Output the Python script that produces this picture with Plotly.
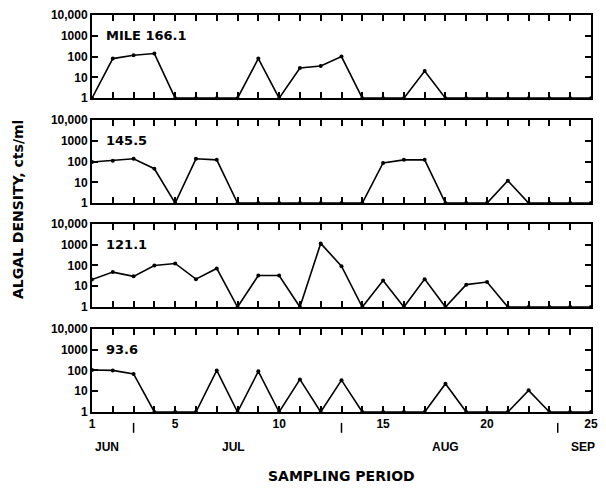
import plotly.graph_objects as go

periods = list(range(1, 26))
mile_166_1 = [1, 80, 115, 140, 1, 1, 1, 1, 80, 1, 28, 35, 100, 1, 1, 1, 20, 1, 1, 1, 1, 1, 1, 1, 1]
mile_145_5 = [95, 110, 135, 45, 1, 135, 120, 1, 1, 1, 1, 1, 1, 1, 85, 120, 120, 1, 1, 1, 12, 1, 1, 1, 1]
mile_121_1 = [21, 48, 30, 100, 125, 22, 72, 1, 33, 33, 1, 1150, 93, 1, 19, 1, 22, 1, 12, 16, 1, 1, 1, 1, 1]
mile_93_6 = [105, 100, 68, 1, 1, 1, 100, 1, 90, 1, 37, 1, 34, 1, 1, 1, 1, 23, 1, 1, 1, 11, 1, 1, 1]
panel_labels = ["MILE 166.1", "145.5", "121.1", "93.6"]
y_tickvals = [1, 10, 100, 1000, 10000]
y_ticktext = ["1", "10", "100", "1000", "10,000"]
x_ticklabels = {1: "1", 5: "5", 10: "10", 15: "15", 20: "20", 25: "25"}
months = ["JUN", "JUL", "AUG", "SEP"]
month_centers = [1.7, 7.8, 18.0, 24.6]
month_boundaries = [3, 13, 23.4]

series = [mile_166_1, mile_145_5, mile_121_1, mile_93_6]

W, H = 606, 489
ml, mr, mt, mb = 92, 8, 11, 77
plot_h = H - mt - mb
panels_px = [(11, 95), (117, 201), (222, 306), (328, 412)]

FONT = "Liberation Sans"
WIDE = "DejaVu Sans"
fig = go.Figure()
layout = dict(
    width=W, height=H,
    margin=dict(l=ml, r=mr, t=mt, b=mb),
    paper_bgcolor="white", plot_bgcolor="white",
    showlegend=False,
    font=dict(family=FONT, size=12, color="black"),
)
annotations = []
shapes = []
for i, (vals, (top, bot)) in enumerate(zip(series, panels_px)):
    n = i + 1
    xa = "x" if n == 1 else f"x{n}"
    ya = "y" if n == 1 else f"y{n}"
    fig.add_trace(go.Scatter(
        x=periods, y=vals, xaxis=xa, yaxis=ya, mode="lines+markers",
        line=dict(color="black", width=1.6),
        marker=dict(color="black", size=4),
        cliponaxis=False,
    ))
    d0 = (mt + plot_h - bot) / plot_h
    d1 = (mt + plot_h - top) / plot_h
    last = (n == 4)
    layout["xaxis" if n == 1 else f"xaxis{n}"] = dict(
        domain=[0, 1], anchor=ya, range=[1, 25],
        tickvals=periods,
        ticktext=[x_ticklabels.get(p, "") for p in periods],
        showticklabels=last,
        ticks="inside", ticklen=6, tickwidth=1.5, tickcolor="black",
        showline=True, linecolor="black", linewidth=2, mirror="ticks",
        showgrid=False, zeroline=False,
        tickfont=dict(family=FONT, size=12, weight="bold"),
    )
    layout["yaxis" if n == 1 else f"yaxis{n}"] = dict(
        domain=[d0, d1], anchor=xa, type="log", range=[0, 4],
        tickvals=y_tickvals, ticktext=y_ticktext,
        ticks="inside", ticklen=6, tickwidth=1.5, tickcolor="black",
        showline=True, linecolor="black", linewidth=2, mirror="ticks",
        showgrid=False, zeroline=False,
        tickfont=dict(family=FONT, size=12, weight="bold"),
    )
    annotations.append(dict(
        text=panel_labels[i], xref=f"{xa} domain", yref=ya,
        x=0.025, y=3, xanchor="left", yanchor="middle", showarrow=False,
        font=dict(family=WIDE, size=13, weight="bold"),
    ))

for m, c in zip(months, month_centers):
    annotations.append(dict(
        text=m, xref="x4", yref="paper", x=c, y=0, yshift=-35,
        xanchor="center", yanchor="middle", showarrow=False,
        font=dict(family=FONT, size=12, weight="bold"),
    ))
for b in month_boundaries:
    shapes.append(dict(type="line", xref="x4", yref="paper", x0=b, x1=b,
                       y0=-11 / plot_h, y1=-21 / plot_h,
                       line=dict(color="black", width=1.5)))

annotations.append(dict(
    text="SAMPLING PERIOD", xref="paper", yref="paper", x=0.5, y=0, yshift=-64,
    xanchor="center", yanchor="middle", showarrow=False,
    font=dict(family=WIDE, size=14, weight="bold"),
))
annotations.append(dict(
    text="ALGAL DENSITY, cts/ml", xref="paper", yref="paper",
    x=-(ml - 17) / (W - ml - mr), y=(mt + plot_h - 208) / plot_h,
    xanchor="center", yanchor="middle", textangle=-90, showarrow=False,
    font=dict(family=WIDE, size=14, weight="bold"),
))
layout["annotations"] = annotations
layout["shapes"] = shapes
fig.update_layout(**layout)
fig.write_html("out.html")
